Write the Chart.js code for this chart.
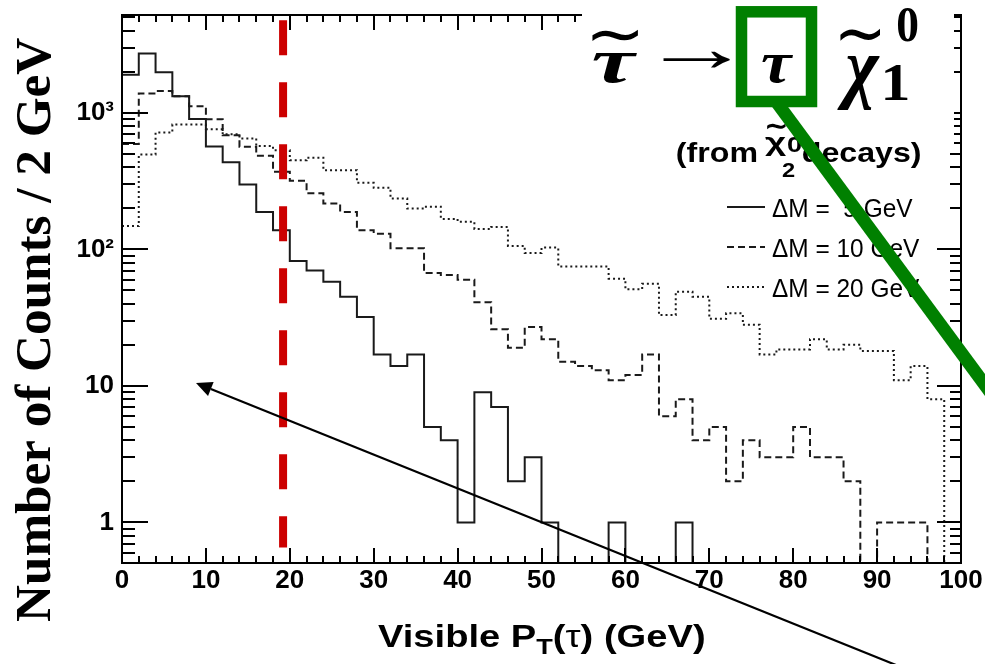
<!DOCTYPE html>
<html>
<head>
<meta charset="utf-8">
<title>Visible PT(tau)</title>
<script src="https://cdn.jsdelivr.net/npm/chart.js@4.4.1/dist/chart.umd.min.js"></script>
<style>
html,body{margin:0;padding:0;background:#ffffff;overflow:hidden;}
#wrap{position:relative;width:985px;height:664px;}
canvas{display:block;}
</style>
</head>
<body>
<div id="wrap"><canvas id="chart" width="985" height="664"></canvas></div>
<script>
// ---------------- data ----------------
const binWidth = 2; // GeV per bin
const xMin = 0, xMax = 100;
const binLowEdges = [0,2,4,6,8,10,12,14,16,18,20,22,24,26,28,30,32,34,36,38,
                     40,42,44,46,48,50,52,54,56,58,60,62,64,66,68,70,72,74,76,78,
                     80,82,84,86,88,90,92,94,96,98];
const countsDM5  = [1900,2720,1980,1320,900,566,435,299,188,138,
                    82,70,58,45,32,17,14,17,5,4,
                    1,9,7,2,3,1,0,0,0,1,
                    0,0,0,1,0,0,0,0,0,0,
                    0,0,0,0,0,0,0,0,0,0];
const countsDM10 = [590,1384,1446,1321,1117,898,686,563,484,370,
                    318,257,217,188,138,130,102,102,67,65,
                    60,41,26,19,27,22,15,14,13,11,
                    12,17,6,8,4,5,2,4,3,3,
                    5,3,3,2,0,1,1,1,0,0];
const countsDM20 = [148,495,718,821,821,759,696,648,570,532,
                    450,468,380,380,307,282,236,199,205,167,
                    159,141,146,106,94,103,75,75,75,61,
                    51,56,33,49,45,31,34,28,17,18.5,
                    18.5,22,18.5,20,18,18,11,14,8,0];
const seriesLabels = ['\u0394M =  5 GeV', '\u0394M = 10 GeV', '\u0394M = 20 GeV'];
const xTickValues = [0,10,20,30,40,50,60,70,80,90,100];
const xTickLabels = ['0','10','20','30','40','50','60','70','80','90','100'];
const yMin = 0.505, yMax = 5200;
const yTickValues = [1,10,100,1000];
const yTickLabels = ['1','10','10\u00B2','10\u00B3'];
const yMinorTicks = [0.6,0.7,0.8,0.9,2,3,4,5,6,7,8,9,20,30,40,50,60,70,80,90,
                     200,300,400,500,600,700,800,900,2000,3000,4000,5000];
const cutValue = 19.2;            // position of red cut line (GeV)
const cutYRange = [4750, 0.655];  // vertical extent of cut line (counts)

// ---------------- helpers ----------------
const FLOOR = 1e-3; // empty bins are drawn below the axis (clipped)
function histPoints(counts){
  const pts = counts.map((c,i)=>({x: binLowEdges[i], y: c > 0 ? c : FLOOR}));
  const last = counts[counts.length-1];
  pts.push({x: binLowEdges[counts.length-1] + binWidth, y: last > 0 ? last : FLOOR});
  return pts;
}
const lineColor = '#1a1a1a';
const seriesDash = [[], [7,4], [2,3]];

function inkBox(ctx, str, font, x0, y0, x1, y1){
  ctx.save();
  ctx.font = font; ctx.textAlign = 'left'; ctx.textBaseline = 'alphabetic';
  const m = ctx.measureText(str);
  const w = m.actualBoundingBoxLeft + m.actualBoundingBoxRight;
  const h = m.actualBoundingBoxAscent + m.actualBoundingBoxDescent;
  ctx.translate(x0, y0);
  ctx.scale((x1-x0)/w, (y1-y0)/h);
  ctx.fillText(str, m.actualBoundingBoxLeft, m.actualBoundingBoxAscent);
  ctx.restore();
}
function inkText(ctx, str, font, xl, xr, baseline){
  ctx.save();
  ctx.font = font; ctx.textAlign = 'left'; ctx.textBaseline = 'alphabetic';
  const m = ctx.measureText(str);
  const w = m.actualBoundingBoxLeft + m.actualBoundingBoxRight;
  ctx.translate(xl, baseline);
  ctx.scale((xr-xl)/w, 1);
  ctx.fillText(str, m.actualBoundingBoxLeft, 0);
  ctx.restore();
}
function runs(ctx, parts, xl, xr, baseline){
  ctx.save();
  ctx.textAlign = 'left'; ctx.textBaseline = 'alphabetic';
  let x = 0;
  const ms = parts.map(p => { ctx.font = p.font; return ctx.measureText(p.t); });
  const first = ms[0].actualBoundingBoxLeft;
  ms.forEach((m,i)=>{ if (i < ms.length-1) x += m.width; });
  const inkR = x + ms[ms.length-1].actualBoundingBoxRight;
  const w = inkR + first;
  ctx.translate(xl, baseline);
  ctx.scale((xr-xl)/w, 1);
  x = first;
  parts.forEach((p,i)=>{ ctx.font = p.font; ctx.fillText(p.t, x, p.dy || 0); x += ms[i].width; });
  ctx.restore();
}

// ---------------- annotation plugin ----------------
const annotPlugin = {
  id: 'annot',
  afterDraw(chart){
    const ctx = chart.ctx, a = chart.chartArea;
    const xs = chart.scales.x, ys = chart.scales.y;
    ctx.save();
    ctx.strokeStyle = '#000'; ctx.lineWidth = 2; ctx.lineCap = 'butt';
    // inner ticks
    ctx.beginPath();
    const yT = (v, len, lenR) => {
      const y = Math.round(ys.getPixelForValue(v));
      ctx.moveTo(a.left, y); ctx.lineTo(a.left + len, y);
      ctx.moveTo(a.right, y); ctx.lineTo(a.right - lenR, y);
    };
    yTickValues.forEach(v => yT(v, 26, 24));
    yMinorTicks.forEach(v => yT(v, 13, 11));
    const xT = (v, len) => {
      const x = Math.round(xs.getPixelForValue(v));
      ctx.moveTo(x, a.bottom); ctx.lineTo(x, a.bottom - len);
      ctx.moveTo(x, a.top); ctx.lineTo(x, a.top + len);
    };
    binLowEdges.forEach(v => { if (!xTickValues.includes(v)) xT(v, 7); });
    xTickValues.forEach(v => xT(v, 15));
    ctx.stroke();
    ctx.strokeRect(a.left, a.top, a.right - a.left, a.bottom - a.top);

    // white panel behind the decay formula
    ctx.fillStyle = '#ffffff';
    ctx.fillRect(582, 0, 372, 150);

    // formula  tau~ -> tau chi~_1^0
    ctx.fillStyle = '#000';
    const serifBI = 'italic bold 66px "Liberation Serif", "DejaVu Serif", serif';
    const tildeFont = '60px "DejaVu Sans", sans-serif';
    inkBox(ctx, '\u03C4', serifBI, 593, 53, 637, 83);
    inkBox(ctx, '\u223C', tildeFont, 592, 30, 638, 42);
    inkBox(ctx, '\u2192', 'bold 60px "Liberation Serif", "DejaVu Serif", serif', 663, 52, 730, 69);
    inkBox(ctx, '\u03C4', serifBI, 762, 55, 793, 83);
    inkBox(ctx, '\u03C7', serifBI, 837, 57, 880, 110);
    inkBox(ctx, '\u223C', tildeFont, 840, 29, 880, 42);
    inkBox(ctx, '0', 'bold 52px "Liberation Serif", serif', 897, 7, 918, 42);
    inkBox(ctx, '1', 'bold 52px "Liberation Serif", serif', 885, 65, 908, 100);

    // (from chi~_2^0 decays)
    const sansB = 'bold 28px "Liberation Sans", Arial, sans-serif';
    inkText(ctx, '(from', sansB, 677, 757, 162);
    inkBox(ctx, '\u03C7', 'bold 28px "Liberation Sans", sans-serif', 765, 137, 786, 157);
    inkBox(ctx, '\u223C', 'bold 28px "DejaVu Sans", sans-serif', 766, 123, 786, 130);
    inkBox(ctx, '0', 'bold 20px "Liberation Sans", sans-serif', 787, 137, 802, 152);
    inkBox(ctx, '2', 'bold 20px "Liberation Sans", sans-serif', 782, 163, 795, 177);
    inkText(ctx, 'decays)', sansB, 803, 920, 162);

    // legend
    const legFont = '26px "Liberation Sans", Arial, sans-serif';
    ctx.font = legFont;
    const mref = ctx.measureText(seriesLabels[1]);
    const sxL = 148 / (mref.actualBoundingBoxLeft + mref.actualBoundingBoxRight);
    const rowBase = [217, 257, 297];
    seriesLabels.forEach((lab, i) => {
      ctx.save();
      ctx.strokeStyle = lineColor; ctx.lineWidth = 2; ctx.setLineDash(seriesDash[i]);
      ctx.beginPath(); ctx.moveTo(727, rowBase[i] - 10); ctx.lineTo(765, rowBase[i] - 10); ctx.stroke();
      ctx.restore();
      ctx.save();
      ctx.font = legFont; ctx.textAlign = 'left'; ctx.textBaseline = 'alphabetic';
      const m = ctx.measureText(lab);
      ctx.translate(772, rowBase[i]); ctx.scale(sxL, 1);
      ctx.fillText(lab, m.actualBoundingBoxLeft, 0);
      ctx.restore();
    });

    // green highlight box and line
    ctx.strokeStyle = '#008000'; ctx.lineWidth = 11.5; ctx.setLineDash([]);
    ctx.strokeRect(741.5, 11.8, 70, 89.7);
    ctx.lineWidth = 13;
    ctx.beginPath(); ctx.moveTo(775, 100); ctx.lineTo(1010, 419); ctx.stroke();

    // black arrow
    const tail = [896, 665], tip = [196, 383];
    ctx.strokeStyle = '#000'; ctx.fillStyle = '#000'; ctx.lineWidth = 2.2;
    const ang = Math.atan2(tip[1] - tail[1], tip[0] - tail[0]);
    const hl = 16, hw = 7.5;
    const bx = tip[0] - hl * Math.cos(ang), by = tip[1] - hl * Math.sin(ang);
    ctx.beginPath(); ctx.moveTo(tail[0], tail[1]); ctx.lineTo(bx, by); ctx.stroke();
    ctx.beginPath();
    ctx.moveTo(tip[0], tip[1]);
    ctx.lineTo(bx + hw * Math.sin(ang), by - hw * Math.cos(ang));
    ctx.lineTo(bx - hw * Math.sin(ang), by + hw * Math.cos(ang));
    ctx.closePath(); ctx.fill();

    // axis titles
    ctx.fillStyle = '#000';
    runs(ctx, [
      {t: 'Visible P', font: 'bold 31px "Liberation Sans", Arial, sans-serif'},
      {t: 'T', font: 'bold 22px "Liberation Sans", Arial, sans-serif', dy: 7},
      {t: '(', font: 'bold 31px "Liberation Sans", Arial, sans-serif'},
      {t: '\u03C4', font: '31px "Liberation Sans", Arial, sans-serif'},
      {t: ') (GeV)', font: 'bold 31px "Liberation Sans", Arial, sans-serif'}
    ], 378, 704, 647);

    ctx.save();
    const yTitle = 'Number of Counts / 2 GeV';
    ctx.font = 'bold 50px "Liberation Serif", "Times New Roman", serif';
    const my = ctx.measureText(yTitle);
    const wy = my.actualBoundingBoxLeft + my.actualBoundingBoxRight;
    ctx.translate(50, 622); ctx.rotate(-Math.PI / 2); ctx.scale(584 / wy, 1);
    ctx.textAlign = 'left'; ctx.textBaseline = 'alphabetic';
    ctx.fillText(yTitle, my.actualBoundingBoxLeft, 0);
    ctx.restore();

    ctx.restore();
  }
};

// ---------------- chart ----------------
const tickFont = {family: '"Liberation Sans", Arial, sans-serif', size: 26, weight: 'bold'};
new Chart(document.getElementById('chart'), {
  type: 'line',
  data: {
    datasets: [
      {label: 'cut', data: [{x: cutValue, y: cutYRange[0]}, {x: cutValue, y: cutYRange[1]}],
       borderColor: '#cc0000', borderWidth: 8, borderDash: [35, 27], borderCapStyle: 'butt',
       pointRadius: 0, fill: false},
      {label: seriesLabels[0], data: histPoints(countsDM5), stepped: 'before',
       borderColor: lineColor, borderWidth: 2, borderDash: seriesDash[0], pointRadius: 0, fill: false},
      {label: seriesLabels[1], data: histPoints(countsDM10), stepped: 'before',
       borderColor: lineColor, borderWidth: 2, borderDash: seriesDash[1], pointRadius: 0, fill: false},
      {label: seriesLabels[2], data: histPoints(countsDM20), stepped: 'before',
       borderColor: lineColor, borderWidth: 2, borderDash: seriesDash[2], pointRadius: 0, fill: false}
    ]
  },
  options: {
    responsive: false, animation: false, devicePixelRatio: 1,
    layout: {padding: {left: 0, right: 24, top: 15, bottom: 0}},
    plugins: {legend: {display: false}, tooltip: {enabled: false}},
    elements: {line: {tension: 0}},
    scales: {
      x: {
        type: 'linear', min: xMin, max: xMax, bounds: 'data',
        grid: {display: false, drawTicks: false}, border: {display: false},
        afterBuildTicks: s => { s.ticks = xTickValues.map(v => ({value: v})); },
        ticks: {autoSkip: false, maxRotation: 0, minRotation: 0, padding: 2, color: '#000', font: tickFont,
                callback: (v, i) => xTickLabels[i]},
        afterFit: s => { s.height = 101; s.paddingLeft = 0; s.paddingRight = 0; s.paddingTop = 0; s.paddingBottom = 0; }
      },
      y: {
        type: 'logarithmic', min: yMin, max: yMax, bounds: 'data', position: 'left',
        grid: {display: false, drawTicks: false}, border: {display: false},
        afterBuildTicks: s => { s.ticks = yTickValues.map(v => ({value: v})); },
        ticks: {autoSkip: false, padding: 8, color: '#000', font: tickFont,
                callback: (v, i) => yTickLabels[i]},
        afterFit: s => { s.width = 122; s.paddingLeft = 0; s.paddingRight = 0; s.paddingTop = 0; s.paddingBottom = 0; }
      }
    }
  },
  plugins: [annotPlugin]
});
</script>
</body>
</html>
